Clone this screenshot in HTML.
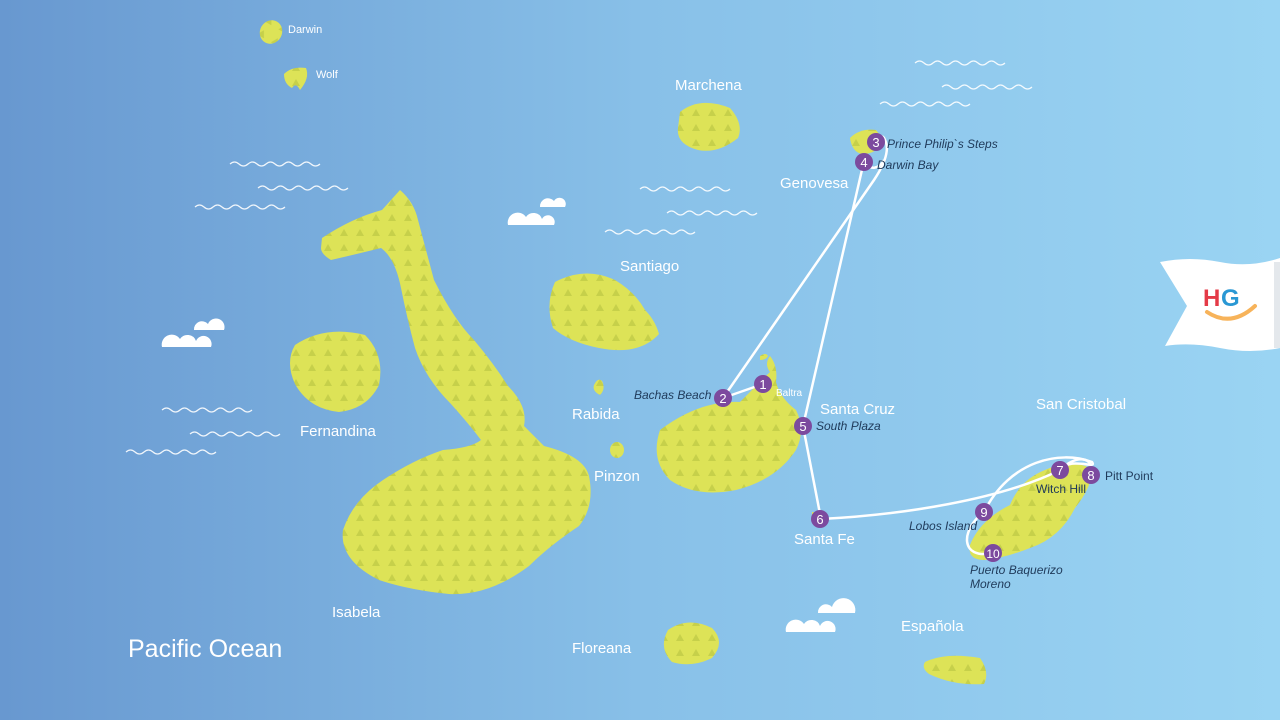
<!DOCTYPE html>
<html><head><meta charset="utf-8"><style>
html,body{margin:0;padding:0;width:1280px;height:720px;overflow:hidden}
svg{display:block}
text{font-family:"Liberation Sans",sans-serif}
</style></head><body>
<svg width="1280" height="720" viewBox="0 0 1280 720" xmlns="http://www.w3.org/2000/svg">
<defs>
<linearGradient id="bg" x1="0" y1="0" x2="1" y2="0">
<stop offset="0" stop-color="#6898d0"/><stop offset="0.5" stop-color="#88c0e8"/><stop offset="1" stop-color="#9ad4f3"/>
</linearGradient>
<pattern id="tri" width="16" height="15" patternUnits="userSpaceOnUse">
<rect width="16" height="15" fill="#dde357"/>
<path d="M4 11 L8 4 L12 11Z" fill="#c6d04a"/>
</pattern>
<g id="wave"><path d="M0 0 q4.5 -4 9 0 t9 0 t9 0 t9 0 t9 0 t9 0 t9 0 t9 0 t9 0 t9 0" fill="none" stroke="#fff" stroke-width="1.2"/></g>
</defs>
<rect width="1280" height="720" fill="url(#bg)"/>
<g opacity="0.9">
<use href="#wave" x="230" y="164"/><use href="#wave" x="258" y="188"/><use href="#wave" x="195" y="207"/>
<use href="#wave" x="162" y="410"/><use href="#wave" x="190" y="434"/><use href="#wave" x="126" y="452"/>
<use href="#wave" x="640" y="189"/><use href="#wave" x="667" y="213"/><use href="#wave" x="605" y="232"/>
<use href="#wave" x="915" y="63"/><use href="#wave" x="942" y="87"/><use href="#wave" x="880" y="104"/>
</g>
<g fill="#fff">
<path d="M508 225 a10 10 0 0 1 18 -8 a9 9 0 0 1 16 2 a6 6 0 0 1 12 6z"/>
<path d="M540 207 a8 8 0 0 1 14 -6 a6 6 0 0 1 11 6z"/>
<path d="M162 347 a10 10 0 0 1 18 -8 a9 9 0 0 1 16 2 a6 6 0 0 1 15 6z"/>
<path d="M194 330 a8 8 0 0 1 14 -6 a6 6 0 0 1 16 6z"/>
<path d="M786 632 a10 10 0 0 1 18 -8 a9 9 0 0 1 16 2 a6 6 0 0 1 15 6z"/>
<path d="M818 613 a8 8 0 0 1 14 -6 a6 6 0 0 1 23 6z"/>
</g>
<g fill="url(#tri)">
<ellipse cx="271" cy="32" rx="11" ry="12" transform="rotate(30 271 32)"/>
<path d="M284 74 q8 -8 22 -6 q4 10 -6 22 q-4 -8 -8 -2 q-8 -4 -8 -14z"/>
<path d="M680 112 q20 -16 50 -4 q14 16 8 30 q-20 16 -40 12 q-22 -6 -20 -22z"/>
<path d="M850 138 q10 -10 26 -8 l8 10 q-6 14 -22 14 q-10 -2 -12 -16z"/>
<path d="M295 345 q30 -20 70 -10 q20 20 14 50 q-12 24 -40 27 q-30 -3 -44 -28 q-10 -22 0 -39z"/>
<path d="M322 238 q30 -20 60 -28 l18 -20 q14 12 18 30 q8 30 16 60 q20 40 40 60 q20 24 34 46 q20 20 16 40 q10 10 20 20 q40 10 45 30 q6 30 -10 50 q-30 20 -50 40 q-40 30 -80 28 q-40 -4 -70 -14 q-40 -20 -36 -50 q10 -30 40 -50 q30 -20 60 -30 q28 -2 38 -10 q-12 -16 -30 -36 q-26 -26 -36 -56 q-8 -30 -14 -60 q-6 -30 -20 -40 q-24 6 -50 12 q-10 -6 -10 -12z"/>
<path d="M555 282 q30 -16 60 -2 q20 12 30 30 q10 10 14 24 q-20 22 -60 14 q-30 -6 -46 -20 q-8 -24 2 -46z"/>
<path d="M594 385 q4 -8 8 -4 q4 8 -2 14 q-8 -4 -6 -10z"/>
<ellipse cx="617" cy="450" rx="7" ry="8"/>
<path d="M660 430 q40 -30 80 -28 q20 -20 30 -30 q-6 -8 0 -16 q8 10 6 26 q4 16 20 28 q10 20 0 40 q-20 30 -60 40 q-40 8 -66 -10 q-20 -20 -10 -50z"/>
<path d="M760 356 q6 -4 8 0 q-2 4 -8 4z"/>
<path d="M812 512 q8 0 10 10 q-6 4 -10 0z"/>
<path d="M970 545 q10 -25 40 -40 q10 -25 35 -35 q25 -12 45 -2 q5 15 -15 40 q-15 30 -45 40 q-25 10 -45 12 q-18 0 -15 -15z"/>
<path d="M668 630 q20 -14 44 -2 q14 14 0 30 q-20 10 -40 4 q-14 -14 -4 -32z"/>
<path d="M925 662 q20 -10 55 -4 q10 14 4 26 q-30 2 -55 -10 q-8 -6 -4 -12z"/>
</g>
<g fill="none" stroke="#fff" stroke-width="2.5">
<path d="M723 398 L763 384"/>
<path d="M723 398 L874 180 C884 165 890 150 885 140 C882 132 878 140 876 143"/>
<path d="M864 161 C870 172 880 168 884 160"/>
<path d="M864 161 L803 426 L821 519"/>
<path d="M821 519 C900 515 1000 500 1060 470"/>
<path d="M984 512 C1010 460 1060 450 1092 462 C1098 470 1070 456 1060 470"/>
<path d="M1060 470 C1075 455 1095 455 1091 475"/>
<path d="M984 512 C960 530 960 560 993 553"/>
</g>
<g font-size="13" fill="#fff" text-anchor="middle">
<g fill="#7c4a9e"><circle cx="763" cy="384" r="9"/><circle cx="723" cy="398" r="9"/><circle cx="876" cy="142" r="9"/><circle cx="864" cy="162" r="9"/><circle cx="803" cy="426" r="9"/><circle cx="820" cy="519" r="9"/><circle cx="1060" cy="470" r="9"/><circle cx="1091" cy="475" r="9"/><circle cx="984" cy="512" r="9"/><circle cx="993" cy="553" r="9"/></g>
<text x="763" y="389">1</text><text x="723" y="403">2</text><text x="876" y="147">3</text><text x="864" y="167">4</text><text x="803" y="431">5</text><text x="820" y="524">6</text><text x="1060" y="475">7</text><text x="1091" y="480">8</text><text x="984" y="517">9</text><text x="993" y="558" font-size="12">10</text>
</g>
<g font-size="12" font-style="italic" fill="#1f3a5a">
<text x="887" y="148">Prince Philip`s Steps</text>
<text x="877" y="169">Darwin Bay</text>
<text x="634" y="399">Bachas Beach</text>
<text x="816" y="430">South Plaza</text>
<text x="909" y="530">Lobos Island</text>
<text x="970" y="574">Puerto Baquerizo</text>
<text x="970" y="588">Moreno</text>
<text x="1036" y="493" font-style="normal">Witch Hill</text>
<text x="1105" y="480" font-style="normal">Pitt Point</text>
</g>
<g fill="#fff" font-size="15">
<text x="675" y="90">Marchena</text>
<text x="780" y="188">Genovesa</text>
<text x="620" y="271">Santiago</text>
<text x="572" y="419">Rabida</text>
<text x="594" y="481">Pinzon</text>
<text x="300" y="436">Fernandina</text>
<text x="332" y="617">Isabela</text>
<text x="820" y="414">Santa Cruz</text>
<text x="1036" y="409">San Cristobal</text>
<text x="794" y="544">Santa Fe</text>
<text x="572" y="653">Floreana</text>
<text x="901" y="631">Española</text>
<text x="128" y="657" font-size="25">Pacific Ocean</text>
<text x="288" y="33" font-size="11">Darwin</text>
<text x="316" y="78" font-size="11">Wolf</text>
<text x="776" y="396" font-size="10">Baltra</text>
</g>
<path d="M1160 262 q30 -6 60 0 q30 6 60 -4 v90 q-30 6 -60 0 q-30 -6 -55 -2 l22 -40z" fill="#fff"/>
<rect x="1274" y="262" width="6" height="86" fill="#e4e8ec"/>
<text x="1203" y="306" font-size="24" font-weight="bold" fill="#e43a47">H</text>
<text x="1221" y="306" font-size="24" font-weight="bold" fill="#2a98d4">G</text>
<path d="M1207 312 q24 16 48 -6" fill="none" stroke="#f7b35a" stroke-width="4" stroke-linecap="round"/>
</svg>
</body></html>
